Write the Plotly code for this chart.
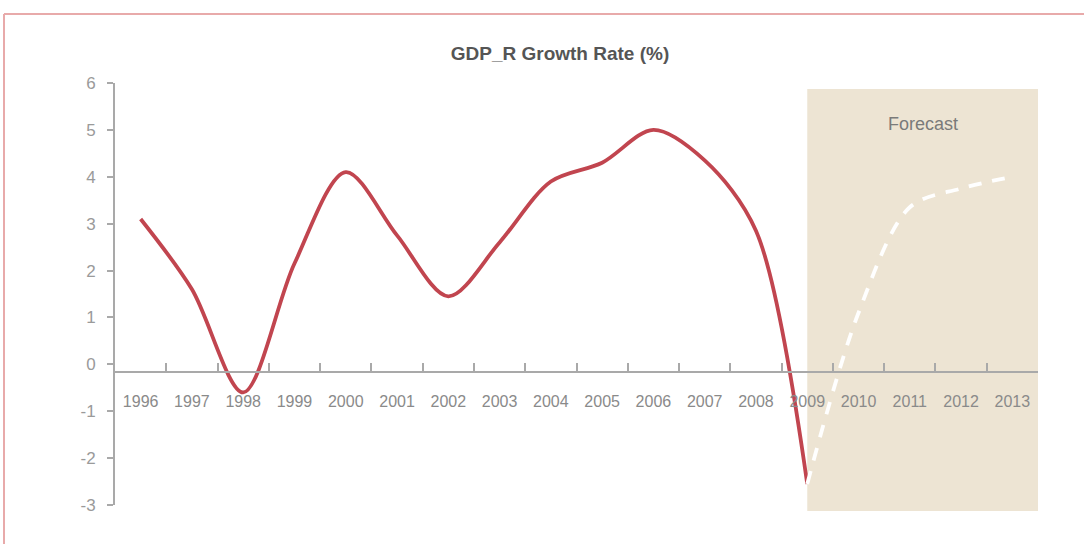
import plotly.graph_objects as go

# ---- data ----
years = [str(y) for y in range(1996, 2014)]
actual_years = years[:14]            # 1996-2009
actual_values = [3.1, 1.6, -0.6, 2.15, 4.1, 2.75, 1.45, 2.6, 3.9, 4.3, 5.0, 4.35, 2.85, -2.55]
forecast_years = years[13:]          # 2009-2013
forecast_values = [-2.55, 1.1, 3.35, 3.75, 4.0]
y_ticks = [-3, -2, -1, 0, 1, 2, 3, 4, 5, 6]
y_tick_labels = ["-3", "-2", "-1", "0", "1", "2", "3", "4", "5", "6"]
forecast_label = "Forecast"
title_text = "GDP_R Growth Rate (%)"

# ---- layout constants ----
W, H = 1084, 544
L, R, T, B = 115, 46, 83, 39
y_min, y_max = -3, 6
x_axis_cross = -0.17
pw, ph = W - L - R, H - T - B

def px_x(p):
    return (p - L) / pw

def px_y(p):
    return (H - B - p) / ph

NARROW = "Liberation Sans Narrow, Arial Narrow, Liberation Sans, sans-serif"

fig = go.Figure()
fig.add_trace(go.Scatter(
    x=actual_years, y=actual_values, mode="lines",
    line=dict(color="#C1454F", width=3.8, shape="spline", smoothing=0.9),
    hoverinfo="skip", showlegend=False))
fig.add_trace(go.Scatter(
    x=forecast_years, y=forecast_values, mode="lines",
    line=dict(color="#FFFFFF", width=3.8, shape="spline", smoothing=0.9, dash="13px,11px"),
    hoverinfo="skip", showlegend=False))

fstart = years.index(forecast_years[0])
fend = len(years) - 0.5

shapes = [
    # forecast box
    dict(type="rect", xref="x", yref="paper", x0=fstart, x1=fend,
         y0=px_y(511), y1=px_y(89), fillcolor="#EDE4D3", line=dict(width=0), layer="below"),
    # outer frame (top and left)
    dict(type="line", xref="paper", yref="paper", x0=px_x(4), x1=px_x(1090),
         y0=px_y(14), y1=px_y(14), line=dict(color="#E8AAAA", width=2)),
    dict(type="line", xref="paper", yref="paper", x0=px_x(4), x1=px_x(4),
         y0=px_y(14), y1=px_y(550), line=dict(color="#E8AAAA", width=2)),
]

fig.update_layout(
    width=W, height=H,
    margin=dict(l=L, r=R, t=T, b=B, pad=0),
    paper_bgcolor="white", plot_bgcolor="rgba(0,0,0,0)",
    shapes=shapes,
    title=dict(text=title_text, x=560 / W, xanchor="center", xref="container",
               y=1 - 53 / H, yanchor="middle", yref="container",
               font=dict(family="Liberation Sans, Arial, sans-serif", size=19,
                         color="#555555", weight="bold")),
    annotations=[dict(text=forecast_label, xref="x", yref="paper",
                      x=(fstart + fend) / 2, y=px_y(124), showarrow=False,
                      xanchor="center", yanchor="middle",
                      font=dict(family="Liberation Sans, Arial, sans-serif", size=18, color="#7A7A7A"))],
    xaxis=dict(type="category", categoryorder="array", categoryarray=years,
               range=[-0.5, len(years) - 0.5],
               anchor="free", position=(x_axis_cross - y_min) / (y_max - y_min),
               showline=True, linecolor="#A9A9A9", linewidth=2,
               ticks="inside", tickson="boundaries", ticklen=8, tickcolor="#A9A9A9", tickwidth=1.5,
               showgrid=False, zeroline=False,
               tickfont=dict(family=NARROW, size=16, color="#8A8A8A"),
               ticklabelstandoff=14),
    yaxis=dict(range=[y_min, y_max], tickvals=y_ticks, ticktext=y_tick_labels,
               showline=True, linecolor="#A9A9A9", linewidth=2,
               ticks="outside", ticklen=6, tickcolor="#A9A9A9", tickwidth=1.5,
               showgrid=False, zeroline=False,
               tickfont=dict(family=NARROW, size=17, color="#9A9A9A"),
               ticklabelstandoff=8),
)

fig.write_html("out.html")
